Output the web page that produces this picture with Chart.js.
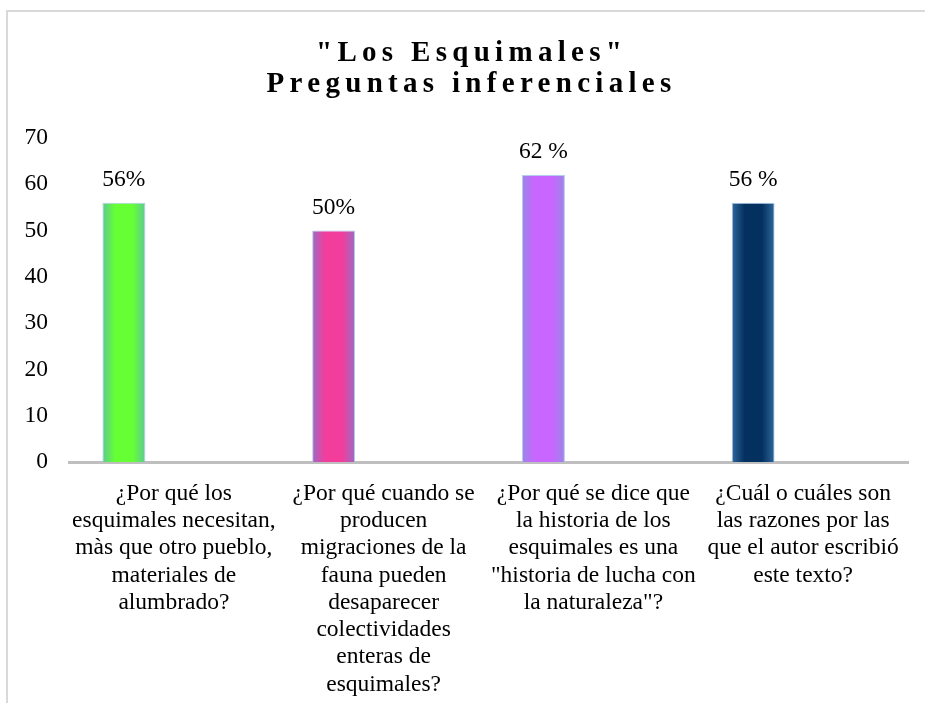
<!DOCTYPE html>
<html>
<head>
<meta charset="utf-8">
<script src="https://cdn.jsdelivr.net/npm/chart.js@4"></script>
<style>
  body { margin: 0; background: #fff; }
  #wrap { width: 925px; height: 703px; }
</style>
</head>
<body>
<div id="wrap"><canvas id="myChart" width="925" height="703"></canvas></div>
<script>
// chart data
const titleLines = ['"Los Esquimales"', 'Preguntas inferenciales'];
const categories = [
    ['¿Por qué los', 'esquimales necesitan,', 'màs que otro pueblo,', 'materiales de', 'alumbrado?'],
    ['¿Por qué cuando se', 'producen', 'migraciones de la', 'fauna pueden', 'desaparecer', 'colectividades', 'enteras de', 'esquimales?'],
    ['¿Por qué se dice que', 'la historia de los', 'esquimales es una', '"historia de lucha con', 'la naturaleza"?'],
    ['¿Cuál o cuáles son', 'las razones por las', 'que el autor escribió', 'este texto?']
];
const values = [56, 50, 62, 56];
const valueLabels = ['56%', '50%', '62 %', '56 %'];
const yTicks = [0, 10, 20, 30, 40, 50, 60, 70];

// bar colours: centre / edge of the gradient
const centerColors = ['#66ff33', '#f23d9c', '#c966ff', '#03305f'];
const edgeColors = ['#5cc994', '#9a6cc4', '#9a86e6', '#2f679c'];

const serif = "'Liberation Serif', 'Times New Roman', serif";
const fontSize = 23.5;
const catPct = 0.953;
const barPct = 0.43;

function barGradient(context) {
    const i = context.dataIndex;
    const chart = context.chart;
    const xs = chart.scales.x;
    if (!xs || !chart.chartArea || i === undefined) return centerColors[0];
    const catW = xs.width / categories.length;
    const slot = catW * catPct / 2;
    const cx = xs.getPixelForValue(i) - slot / 2;
    const half = slot * barPct / 2;
    const g = chart.ctx.createLinearGradient(cx - half, 0, cx + half, 0);
    g.addColorStop(0, edgeColors[i]);
    g.addColorStop(0.3, centerColors[i]);
    g.addColorStop(0.7, centerColors[i]);
    g.addColorStop(1, edgeColors[i]);
    return g;
}

// frame + title drawn by hand (title needs letter spacing)
const decorations = {
    id: 'decorations',
    beforeDraw(chart) {
        const c = chart.ctx;
        c.save();
        c.strokeStyle = '#d9d9d9';
        c.lineWidth = 2;
        c.beginPath();
        c.moveTo(7, 720);
        c.lineTo(7, 11);
        c.lineTo(940, 11);
        c.stroke();
        c.restore();
    },
    afterDraw(chart) {
        const c = chart.ctx;
        c.save();
        c.font = 'bold 29px ' + serif;
        c.fillStyle = '#000';
        c.textAlign = 'center';
        c.letterSpacing = '5.3px';
        c.fillText(titleLines[0], 469 + 2.6, 61);
        c.fillText(titleLines[1], 469 + 2.6, 92);
        c.restore();
    },
    afterDatasetsDraw(chart) {
        const c = chart.ctx;
        const meta = chart.getDatasetMeta(0);
        c.save();
        c.font = fontSize + 'px ' + serif;
        c.fillStyle = '#000';
        c.textAlign = 'center';
        c.textBaseline = 'middle';
        meta.data.forEach((bar, i) => {
            c.fillText(valueLabels[i], bar.x, bar.y - 23);
        });
        c.restore();
    }
};

const ctx = document.getElementById('myChart').getContext('2d');
const chart = new Chart(ctx, {
    type: 'bar',
    data: {
        labels: categories,
        datasets: [{
            data: values,
            backgroundColor: barGradient,
            borderColor: 'rgba(170, 200, 235, 0.9)',
            borderWidth: 1,
            categoryPercentage: catPct,
            barPercentage: barPct
        }, {
            // empty second series, keeps the bars shifted left like the original
            data: values.map(() => null),
            categoryPercentage: catPct,
            barPercentage: barPct
        }]
    },
    options: {
        responsive: false,
        animation: false,
        layout: { padding: { top: 138, right: 17, left: 24, bottom: 0 } },
        plugins: {
            legend: { display: false },
            title: { display: false },
            tooltip: { enabled: false }
        },
        scales: {
            x: {
                grid: { display: false, drawTicks: false },
                border: { color: '#bfbfbf', width: 3 },
                ticks: {
                    color: '#000',
                    font: { family: serif, size: fontSize, lineHeight: 1.16 },
                    maxRotation: 0,
                    autoSkip: false,
                    padding: 18
                },
                afterFit: axis => {
                    axis.paddingLeft = 0;
                    axis.paddingRight = 0;
                    if (axis._margins) { axis._margins.left = 0; axis._margins.right = 0; }
                    axis.height = 241;
                }
            },
            y: {
                min: yTicks[0],
                max: yTicks[yTicks.length - 1],
                grid: { display: false, drawTicks: false },
                border: { display: false },
                afterBuildTicks: axis => { axis.ticks = yTicks.map(v => ({ value: v })); },
                afterFit: axis => { axis.width = 45; },
                ticks: {
                    color: '#000',
                    font: { family: serif, size: fontSize },
                    padding: 21
                }
            }
        }
    },
    plugins: [decorations]
});
</script>
</body>
</html>
